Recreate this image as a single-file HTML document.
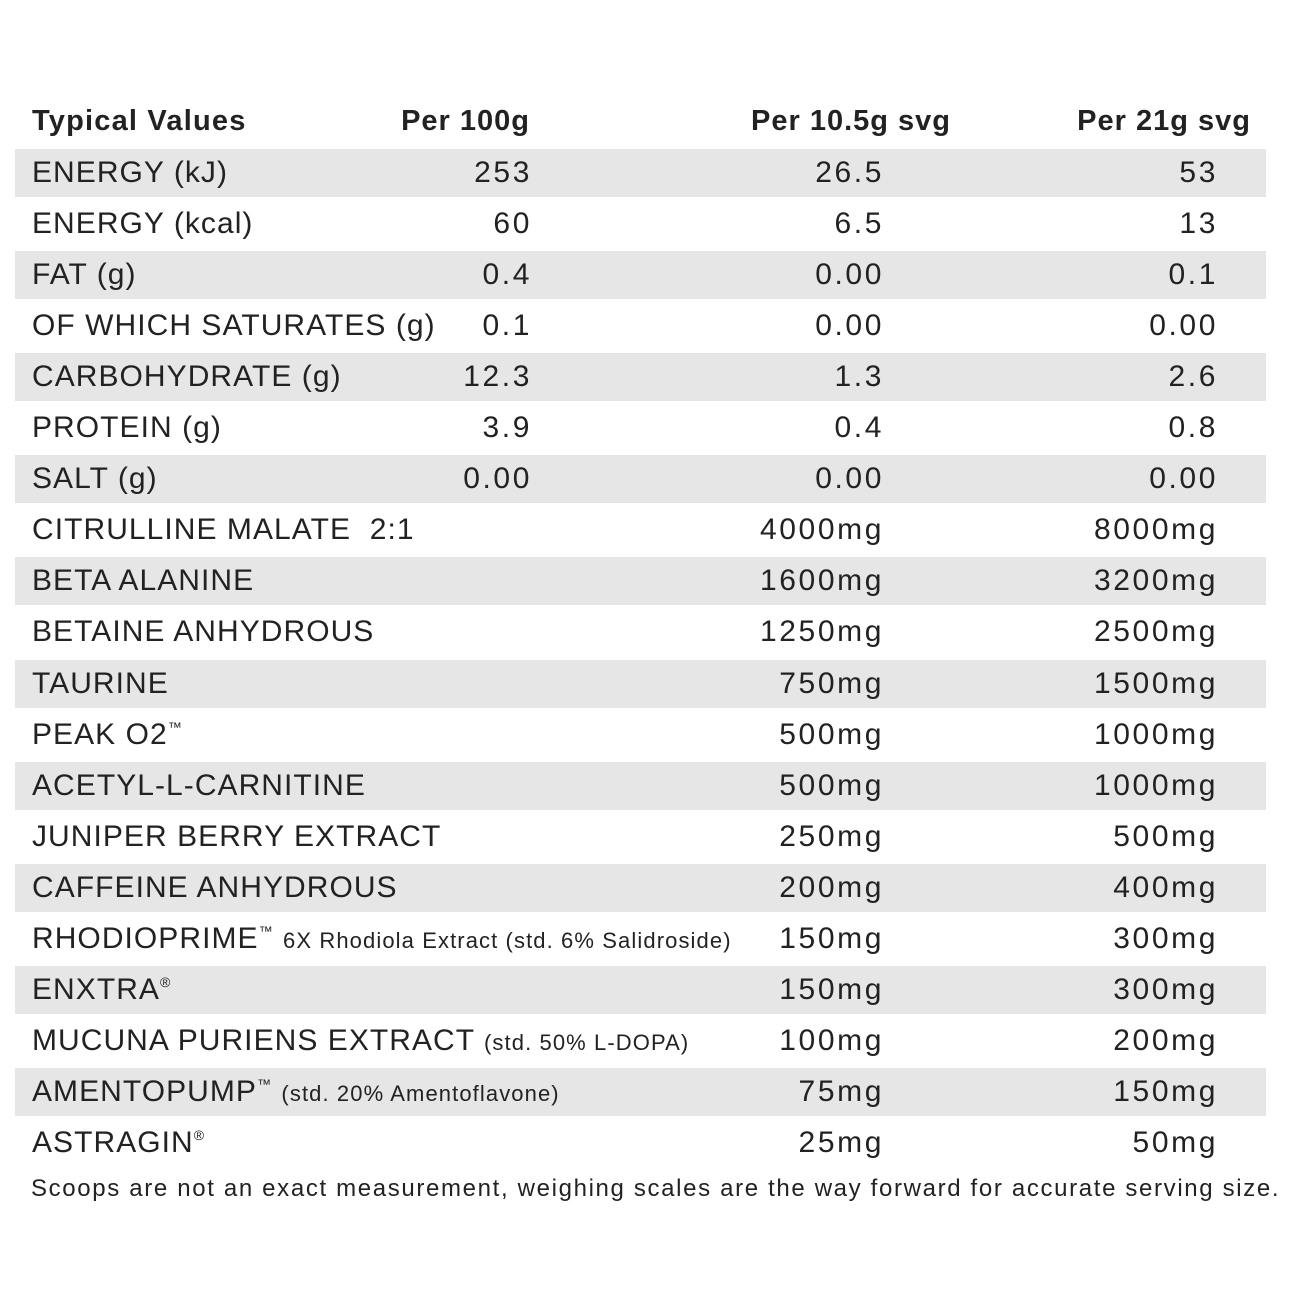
<!DOCTYPE html>
<html><head><style>
body{margin:0;width:1296px;height:1296px;background:#fff;position:relative;font-family:"Liberation Sans",sans-serif;color:#222;overflow:hidden}
.r{position:absolute;left:0;width:1296px;height:51px;line-height:51px;font-size:30px}
.g{position:absolute;left:15px;width:1251px;top:2px;height:48px;background:#e6e6e6}
.t{position:absolute;white-space:nowrap}
.l{left:32px;letter-spacing:1.05px}
.a,.b,.c{letter-spacing:2.6px}
.a{right:764px}.b{right:412px}.c{right:78px}
.s{font-size:22px;letter-spacing:1.1px}
sup{font-size:14px;position:relative;top:-12px;vertical-align:baseline;line-height:0}
.h{font-weight:bold;font-size:29px;letter-spacing:1px}
.h .t{letter-spacing:1px}
</style></head><body>
<div class="r h" style="top:96px"><span class="t l" style="letter-spacing:1.2px">Typical Values</span><span class="t" style="right:766px">Per 100g</span><span class="t" style="right:345px">Per 10.5g svg</span><span class="t" style="right:45px">Per 21g svg</span></div>
<div id="rows"></div>
<script>
var d=[["ENERGY (kJ)","253","26.5","53"],["ENERGY (kcal)","60","6.5","13"],["FAT (g)","0.4","0.00","0.1"],["OF WHICH SATURATES (g)","0.1","0.00","0.00"],["CARBOHYDRATE (g)","12.3","1.3","2.6"],["PROTEIN (g)","3.9","0.4","0.8"],["SALT (g)","0.00","0.00","0.00"],["CITRULLINE MALATE&nbsp; 2:1","","4000mg","8000mg"],["BETA ALANINE","","1600mg","3200mg"],["BETAINE ANHYDROUS","","1250mg","2500mg"],["TAURINE","","750mg","1500mg"],["PEAK O2<sup>™</sup>","","500mg","1000mg"],["ACETYL-L-CARNITINE","","500mg","1000mg"],["JUNIPER BERRY EXTRACT","","250mg","500mg"],["CAFFEINE ANHYDROUS","","200mg","400mg"],["RHODIOPRIME<sup>™</sup> <span class=s>6X Rhodiola Extract (std. 6% Salidroside)</span>","","150mg","300mg"],["ENXTRA<sup>®</sup>","","150mg","300mg"],["MUCUNA PURIENS EXTRACT <span class=s>(std. 50% L-DOPA)</span>","","100mg","200mg"],["AMENTOPUMP<sup>™</sup> <span class=s>(std. 20% Amentoflavone)</span>","","75mg","150mg"],["ASTRAGIN<sup>®</sup>","","25mg","50mg"]];
var h="";d.forEach(function(r,i){h+='<div class="r" style="top:'+(147+51.05*i)+'px">'+(i%2==0?'<div class="g"></div>':'')+'<span class="t l">'+r[0]+'</span><span class="t a">'+r[1]+'</span><span class="t b">'+r[2]+'</span><span class="t c">'+r[3]+'</span></div>';});
document.getElementById("rows").innerHTML=h;
</script>
<div class="t" style="left:31px;top:1175px;font-size:24px;letter-spacing:1.65px">Scoops are not an exact measurement, weighing scales are the way forward for accurate serving size.</div>
</body></html>
